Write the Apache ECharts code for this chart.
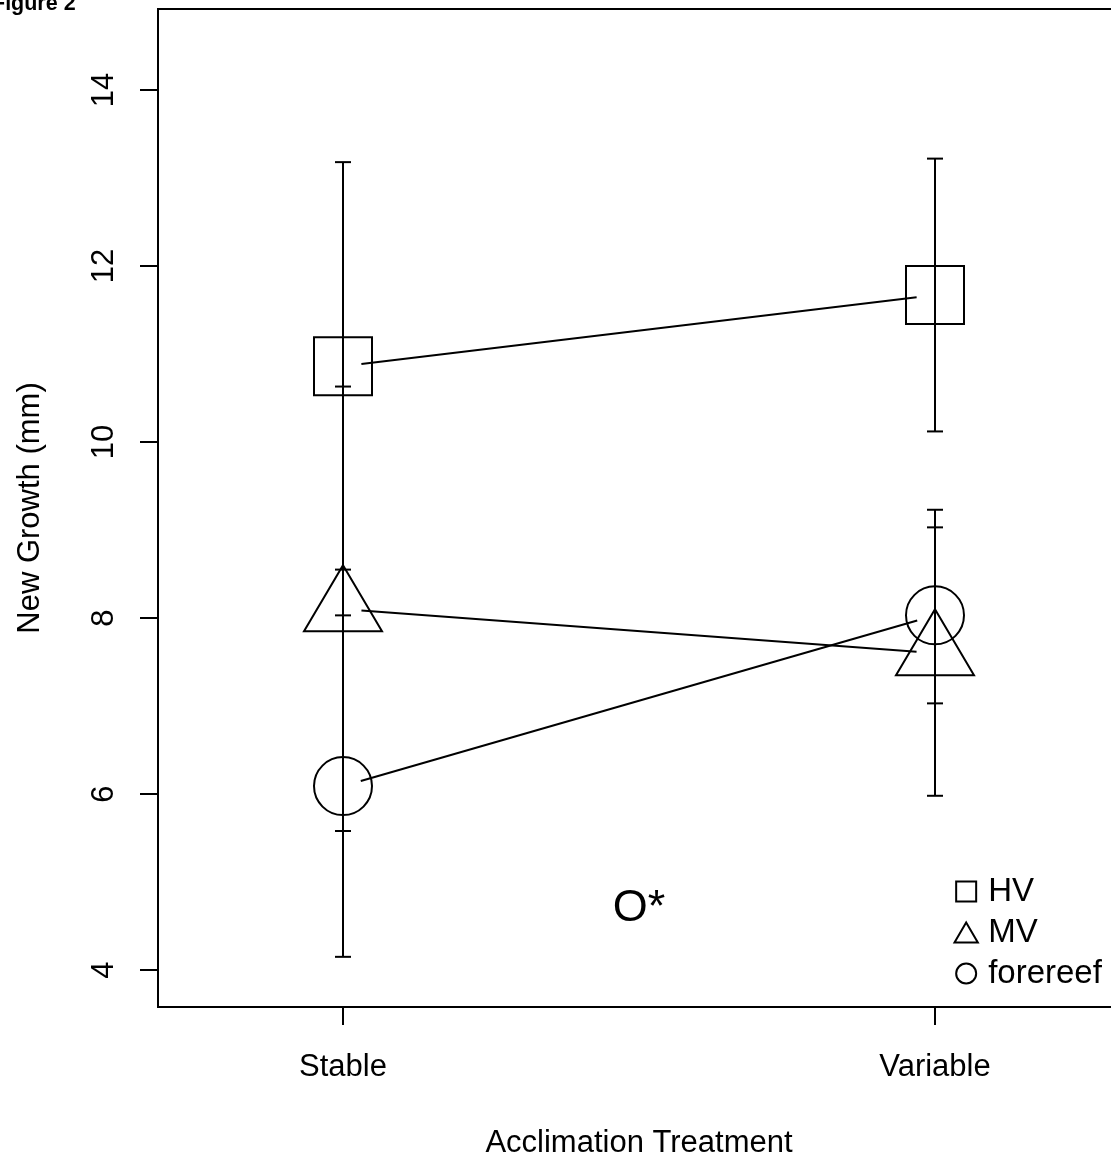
<!DOCTYPE html>
<html>
<head>
<meta charset="utf-8">
<script src="https://cdn.jsdelivr.net/npm/echarts@6/dist/echarts.min.js"></script>
<style>
  html, body { margin: 0; padding: 0; background: #fff; }
  #chart { width: 1111px; height: 1157px; }
</style>
</head>
<body>
<div id="chart"></div>
<script>
// Acclimation treatments on the x axis
const treatments = ['Stable', 'Variable'];

// Source populations
const groups = ['HV', 'MV', 'forereef'];

// Mean new growth (mm) per treatment, with lower / upper error limits
const meanHV = [10.86, 11.67];
const lowHV = [8.55, 10.12];
const highHV = [13.18, 13.22];

const meanMV = [8.10, 7.60];
const lowMV = [5.58, 5.98];
const highMV = [10.63, 9.23];

const meanForereef = [6.09, 8.03];
const lowForereef = [4.15, 7.03];
const highForereef = [8.03, 9.03];

// Y axis ticks
const yTicks = [4, 6, 8, 10, 12, 14];

// Significance note placed inside the panel
const noteText = 'O*';
const notePos = [1.5, 4.70];

const FONT = '"Liberation Sans", Arial, Helvetica, sans-serif';
const INK = '#000';
const LW = 2;

const means = [meanHV, meanMV, meanForereef];
const lows = [lowHV, lowMV, lowForereef];
const highs = [highHV, highMV, highForereef];
const shapes = ['square', 'triangle', 'circle'];

function strokeStyle() {
  return { stroke: INK, lineWidth: LW, fill: null };
}

// Hollow plotting symbol centred on (cx, cy)
function markerShape(kind, cx, cy) {
  if (kind === 'square') {
    return { type: 'rect', shape: { x: cx - 29, y: cy - 29, width: 58, height: 58 }, style: strokeStyle() };
  }
  if (kind === 'circle') {
    return { type: 'circle', shape: { cx: cx, cy: cy, r: 29 }, style: strokeStyle() };
  }
  // triangle: apex above the centre, base below (centroid at the point)
  return {
    type: 'polygon',
    shape: { points: [[cx, cy - 44], [cx + 39, cy + 22], [cx - 39, cy + 22]] },
    style: strokeStyle()
  };
}

function line(x1, y1, x2, y2) {
  return { type: 'line', shape: { x1: x1, y1: y1, x2: x2, y2: y2 }, style: { stroke: INK, lineWidth: LW } };
}

// One series per population: error bars, joining segment and symbols
function makeSeries(g) {
  const data = treatments.map((t, i) => [i + 1, means[g][i], lows[g][i], highs[g][i]]);
  return {
    name: groups[g],
    type: 'custom',
    coordinateSystem: 'cartesian2d',
    clip: false,
    data: data,
    renderItem: function (params, api) {
      const x = api.value(0);
      const c = api.coord([x, api.value(1)]);
      const lo = api.coord([x, api.value(2)]);
      const hi = api.coord([x, api.value(3)]);
      const cap = 8;
      const children = [
        line(hi[0], hi[1], lo[0], lo[1]),
        line(hi[0] - cap, hi[1], hi[0] + cap, hi[1]),
        line(lo[0] - cap, lo[1], lo[0] + cap, lo[1])
      ];
      // segment joining this treatment to the next one, with a gap at each symbol
      if (params.dataIndex < data.length - 1) {
        const nx = data[params.dataIndex + 1];
        const n = api.coord([nx[0], nx[1]]);
        const dx = n[0] - c[0], dy = n[1] - c[1];
        const len = Math.sqrt(dx * dx + dy * dy);
        const gap = 18.5;
        const ux = dx / len, uy = dy / len;
        children.push(line(c[0] + ux * gap, c[1] + uy * gap, n[0] - ux * gap, n[1] - uy * gap));
      }
      children.push(markerShape(shapes[g], c[0], c[1]));
      return { type: 'group', children: children };
    }
  };
}

const series = groups.map((_, g) => makeSeries(g));

series.push({
  name: 'note',
  type: 'custom',
  coordinateSystem: 'cartesian2d',
  clip: false,
  data: [notePos],
  renderItem: function (params, api) {
    const p = api.coord([api.value(0), api.value(1)]);
    return {
      type: 'text',
      x: p[0], y: p[1],
      style: { text: noteText, font: '45px ' + FONT, fill: INK, align: 'center', verticalAlign: 'middle' }
    };
  }
});

const legendIcons = {
  square: 'path://M0,0L20,0L20,20L0,20Z',
  triangle: 'path://M14,0L28,24L0,24Z',
  circle: 'path://M10,0A10,10,0,1,1,9.99,0Z'
};

const chart = echarts.init(document.getElementById('chart'), null, { renderer: 'canvas' });

chart.setOption({
  animation: false,
  backgroundColor: '#fff',
  textStyle: { fontFamily: FONT },
  grid: {
    left: 158, top: 9, width: 962, height: 998,
    show: true, borderColor: INK, borderWidth: LW, backgroundColor: 'transparent',
    containLabel: false,
    outerBoundsMode: 'none'
  },
  xAxis: {
    type: 'value',
    min: 0.6875, max: 2.3125,
    axisLine: { show: false, onZero: false },
    splitLine: { show: false },
    axisTick: { show: true, customValues: [1, 2], length: 18, lineStyle: { color: INK, width: LW } },
    axisLabel: {
      customValues: [1, 2],
      formatter: v => treatments[Math.round(v) - 1],
      margin: 45, fontSize: 31, color: INK, fontFamily: FONT
    },
    name: 'Acclimation Treatment',
    nameLocation: 'middle',
    nameGap: 121,
    nameTextStyle: { fontSize: 31, color: INK, fontFamily: FONT }
  },
  yAxis: {
    type: 'value',
    min: 3.58, max: 14.92,
    axisLine: { show: false, onZero: false },
    splitLine: { show: false },
    axisTick: { show: true, customValues: yTicks, length: 18, lineStyle: { color: INK, width: LW } },
    axisLabel: {
      customValues: yTicks,
      rotate: 90,
      margin: 38, fontSize: 31, color: INK, fontFamily: FONT
    },
    name: 'New Growth (mm)',
    nameLocation: 'middle',
    nameGap: 112,
    nameRotate: 90,
    nameTextStyle: { fontSize: 31, color: INK, fontFamily: FONT }
  },
  legend: {
    orient: 'vertical',
    left: 947,
    top: 870,
    itemGap: 8,
    itemWidth: 28,
    itemHeight: 20,
    symbolKeepAspect: true,
    selectedMode: false,
    textStyle: { fontSize: 33, color: INK, fontFamily: FONT, padding: [0, 0, 0, 3] },
    data: groups.map((name, g) => ({
      name: name,
      icon: legendIcons[shapes[g]],
      itemStyle: { color: 'none', borderColor: INK, borderWidth: LW }
    }))
  },
  graphic: [{
    type: 'text',
    x: -8, y: -7,
    style: { text: 'Figure 2', font: 'bold 21.5px ' + FONT, fill: INK, verticalAlign: 'top' }
  }],
  series: series
});
</script>
</body>
</html>
